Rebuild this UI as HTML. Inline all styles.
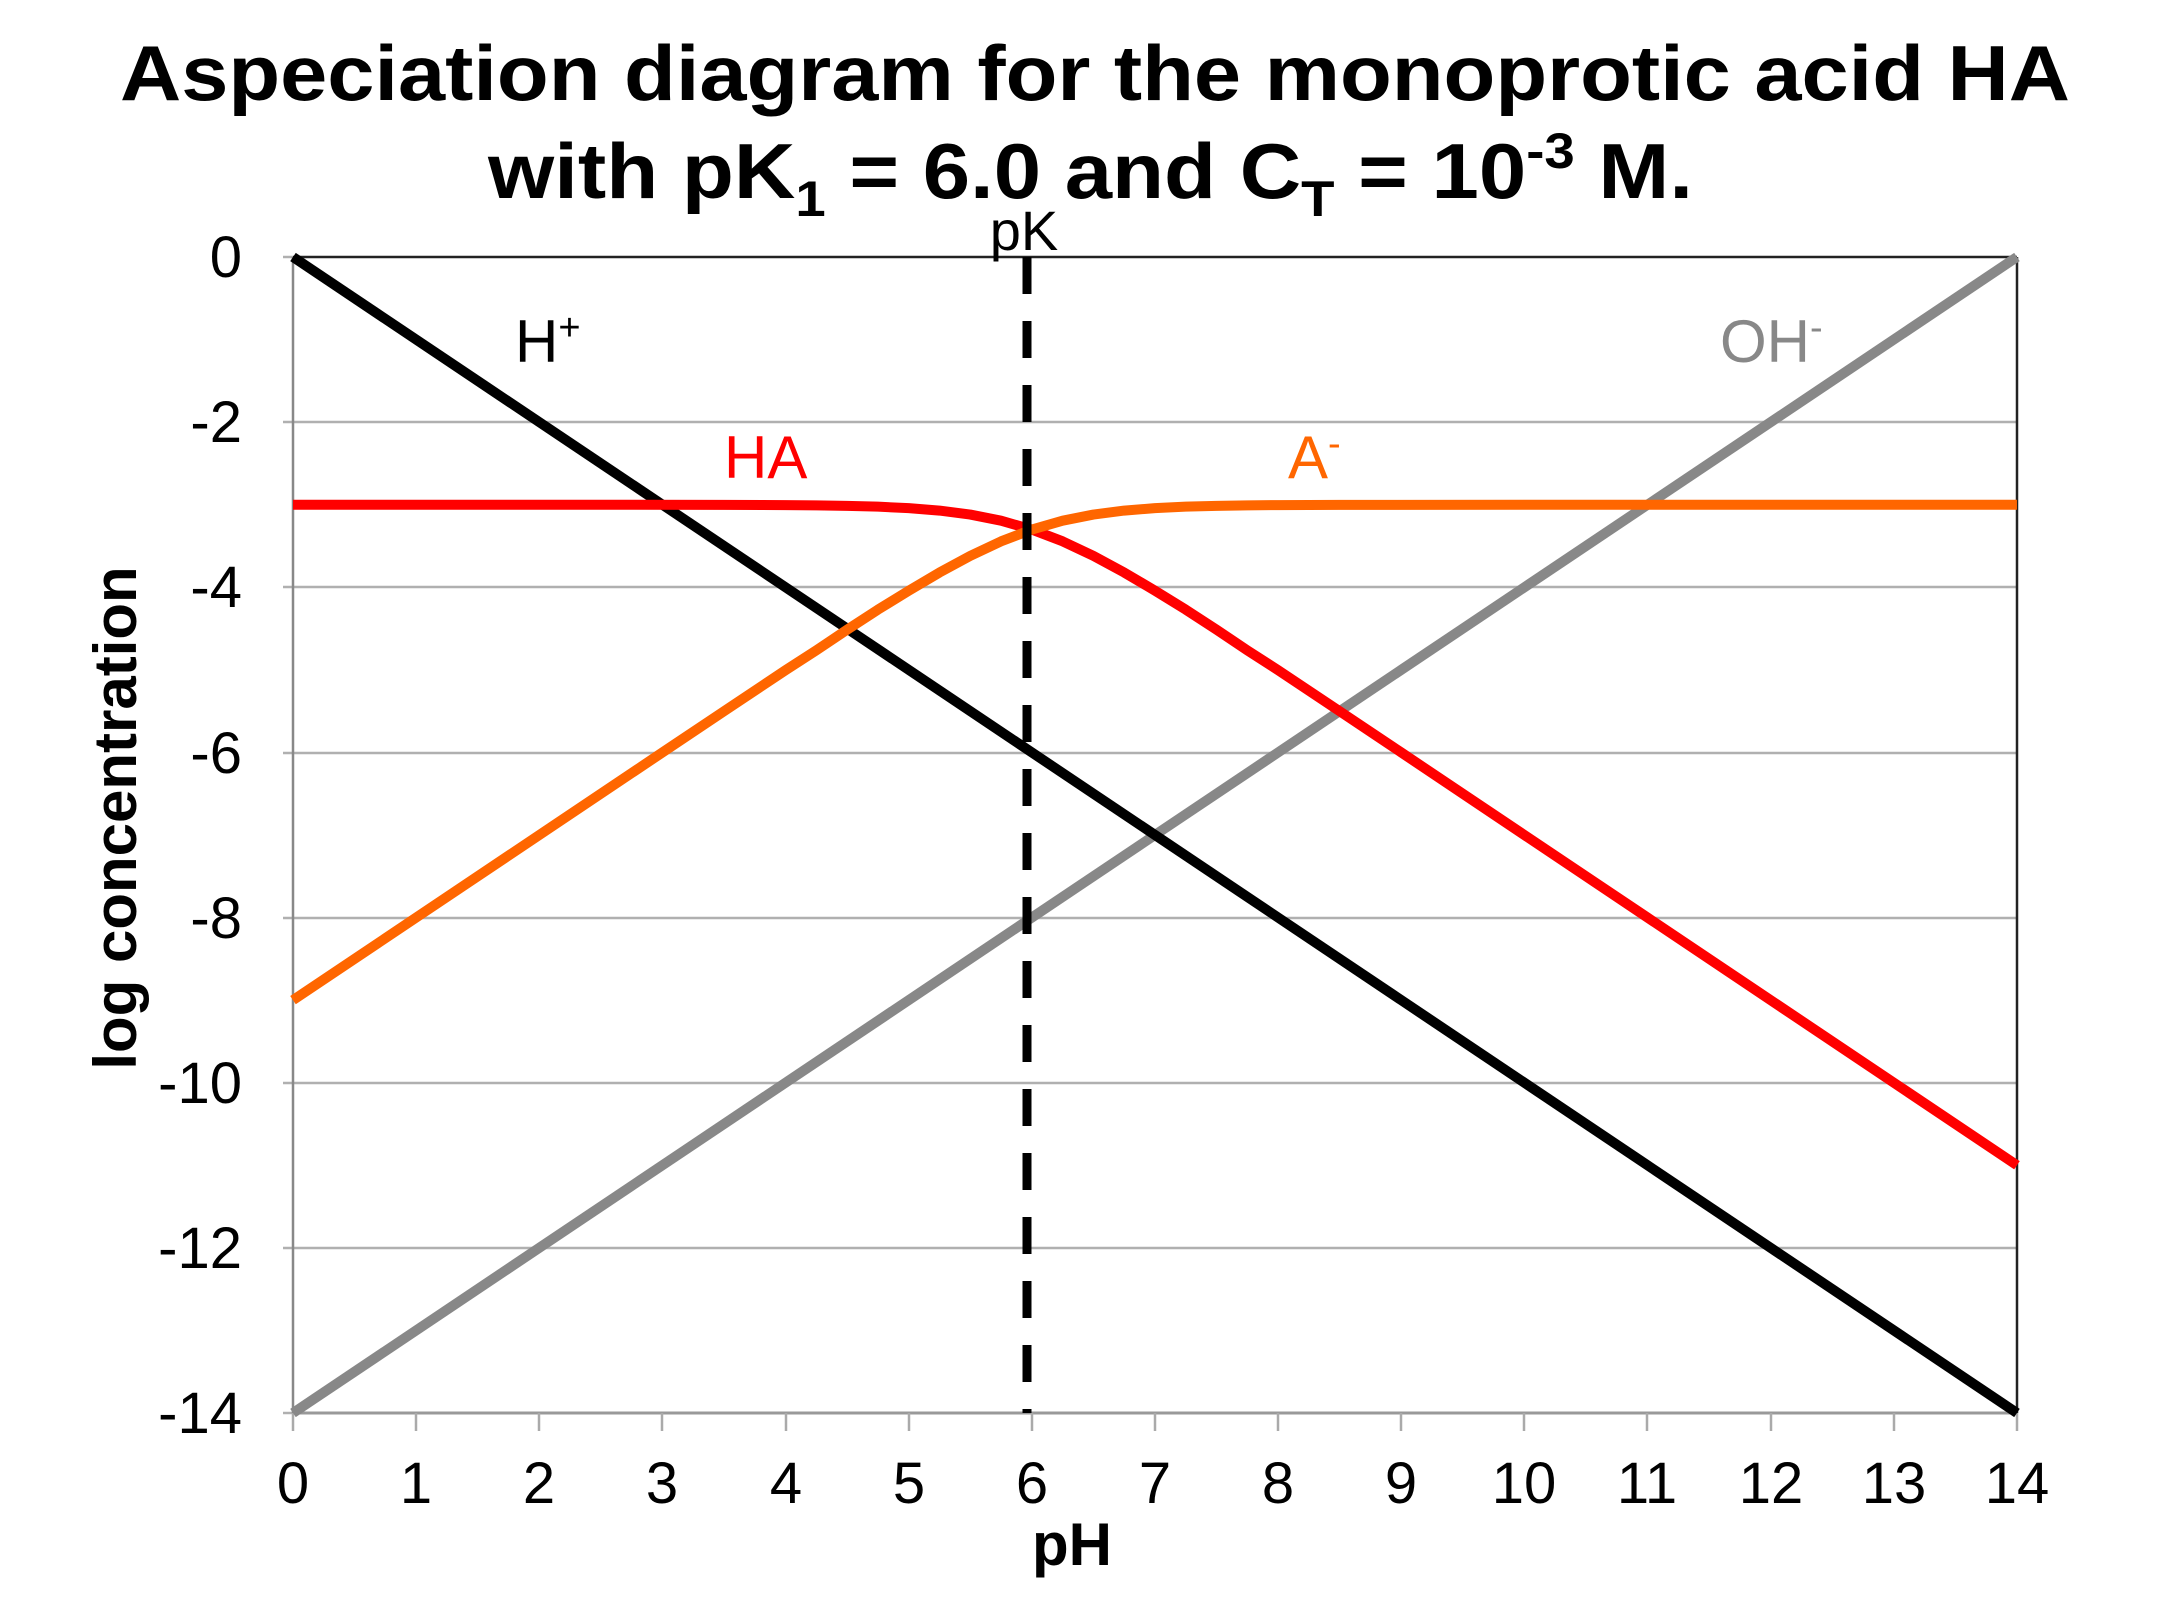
<!DOCTYPE html>
<html><head><style>
html,body{margin:0;padding:0;background:#fff;}
svg{display:block;}
text{font-family:"Liberation Sans",Arial,sans-serif;}
</style></head><body>
<svg width="2160" height="1620" viewBox="0 0 2160 1620" xmlns="http://www.w3.org/2000/svg">
<rect width="2160" height="1620" fill="#fff"/>
<text x="1095" y="100" font-size="78" font-weight="bold" text-anchor="middle" textLength="1950" lengthAdjust="spacingAndGlyphs">Aspeciation diagram for the monoprotic acid HA</text>
<text x="488" y="198" font-size="78" font-weight="bold" textLength="1205" lengthAdjust="spacingAndGlyphs">with pK<tspan font-size="50" dy="18">1</tspan><tspan dy="-18"> = 6.0 and C</tspan><tspan font-size="50" dy="18">T</tspan><tspan dy="-18"> = 10</tspan><tspan font-size="50" dy="-30">-3</tspan><tspan dy="30"> M.</tspan></text>
<g stroke="#b0b0b0" stroke-width="2.5">
<line x1="283" y1="422" x2="2017" y2="422"/>
<line x1="283" y1="587" x2="2017" y2="587"/>
<line x1="283" y1="753" x2="2017" y2="753"/>
<line x1="283" y1="918" x2="2017" y2="918"/>
<line x1="283" y1="1083" x2="2017" y2="1083"/>
<line x1="283" y1="1248" x2="2017" y2="1248"/>
<line x1="283" y1="257" x2="293" y2="257"/>
<line x1="283" y1="1413" x2="293" y2="1413"/>
</g>
<line x1="293" y1="257" x2="2017" y2="257" stroke="#222" stroke-width="2.5"/>
<line x1="2017" y1="257" x2="2017" y2="1413" stroke="#222" stroke-width="2.5"/>
<line x1="293" y1="257" x2="293" y2="1413" stroke="#888" stroke-width="2.5"/>
<line x1="293" y1="1413" x2="2017" y2="1413" stroke="#999" stroke-width="3"/>
<g stroke="#aaa" stroke-width="2.5">
<line x1="293" y1="1413" x2="293" y2="1431"/><line x1="416" y1="1413" x2="416" y2="1431"/><line x1="539" y1="1413" x2="539" y2="1431"/><line x1="662" y1="1413" x2="662" y2="1431"/><line x1="786" y1="1413" x2="786" y2="1431"/><line x1="909" y1="1413" x2="909" y2="1431"/><line x1="1032" y1="1413" x2="1032" y2="1431"/><line x1="1155" y1="1413" x2="1155" y2="1431"/><line x1="1278" y1="1413" x2="1278" y2="1431"/><line x1="1401" y1="1413" x2="1401" y2="1431"/><line x1="1524" y1="1413" x2="1524" y2="1431"/><line x1="1647" y1="1413" x2="1647" y2="1431"/><line x1="1771" y1="1413" x2="1771" y2="1431"/><line x1="1894" y1="1413" x2="1894" y2="1431"/><line x1="2017" y1="1413" x2="2017" y2="1431"/>
</g>
<g font-size="58" text-anchor="end">
<text x="242" y="277">0</text><text x="242" y="442">-2</text><text x="242" y="607">-4</text><text x="242" y="773">-6</text><text x="242" y="938">-8</text><text x="242" y="1103">-10</text><text x="242" y="1268">-12</text><text x="242" y="1433">-14</text>
</g>
<g font-size="58" text-anchor="middle">
<text x="293" y="1503">0</text><text x="416" y="1503">1</text><text x="539" y="1503">2</text><text x="662" y="1503">3</text><text x="786" y="1503">4</text><text x="909" y="1503">5</text><text x="1032" y="1503">6</text><text x="1155" y="1503">7</text><text x="1278" y="1503">8</text><text x="1401" y="1503">9</text><text x="1524" y="1503">10</text><text x="1647" y="1503">11</text><text x="1771" y="1503">12</text><text x="1894" y="1503">13</text><text x="2017" y="1503">14</text>
</g>
<text x="1072" y="1565" font-size="60" font-weight="bold" text-anchor="middle">pH</text>
<text transform="translate(136,818) rotate(-90)" font-size="60" font-weight="bold" text-anchor="middle">log concentration</text>
<g transform="translate(293,257) scale(123.14,82.57)" fill="none" stroke-linejoin="round" stroke-linecap="butt">
<polyline vector-effect="non-scaling-stroke" stroke="#888" stroke-width="10" points="0,14 14,0"/>
<polyline vector-effect="non-scaling-stroke" stroke="#000" stroke-width="10" points="0,0 14,14"/>
<polyline vector-effect="non-scaling-stroke" stroke="#ff0000" stroke-width="10" points="0,3 3.5,3.0014 4,3.0043 4.25,3.0077 4.5,3.0135 4.75,3.0238 5,3.0414 5.25,3.0711 5.5,3.1194 5.75,3.1938 6,3.301 6.25,3.4437 6.5,3.6194 6.75,3.8211 7,4.0414 7.25,4.2711 7.5,4.5135 7.75,4.7638 8,5.0043 8.5,5.5014 9,6.0004 14,11"/>
<polyline vector-effect="non-scaling-stroke" stroke="#ff6600" stroke-width="10" points="0,9 3,6.0004 3.5,5.5014 4,5.0043 4.25,4.7638 4.5,4.5135 4.75,4.2711 5,4.0414 5.25,3.8211 5.5,3.6194 5.75,3.4437 6,3.301 6.25,3.1938 6.5,3.1194 6.75,3.0711 7,3.0414 7.25,3.0238 7.5,3.0135 7.75,3.0077 8,3.0043 8.5,3.0014 14,3"/>
</g>
<line x1="1027" y1="257" x2="1027" y2="1413" stroke="#000" stroke-width="9" stroke-dasharray="37,27"/>
<text x="1024" y="250" font-size="56" text-anchor="middle">pK</text>
<text x="515" y="362" font-size="60">H<tspan font-size="38" dy="-22">+</tspan></text>
<text x="724" y="478" font-size="60" fill="#ff0000">HA</text>
<text x="1288" y="478" font-size="60" fill="#ff6600">A<tspan font-size="38" dy="-22">-</tspan></text>
<text x="1720" y="362" font-size="60" fill="#888">OH<tspan font-size="38" dy="-22">-</tspan></text>
</svg>
</body></html>
